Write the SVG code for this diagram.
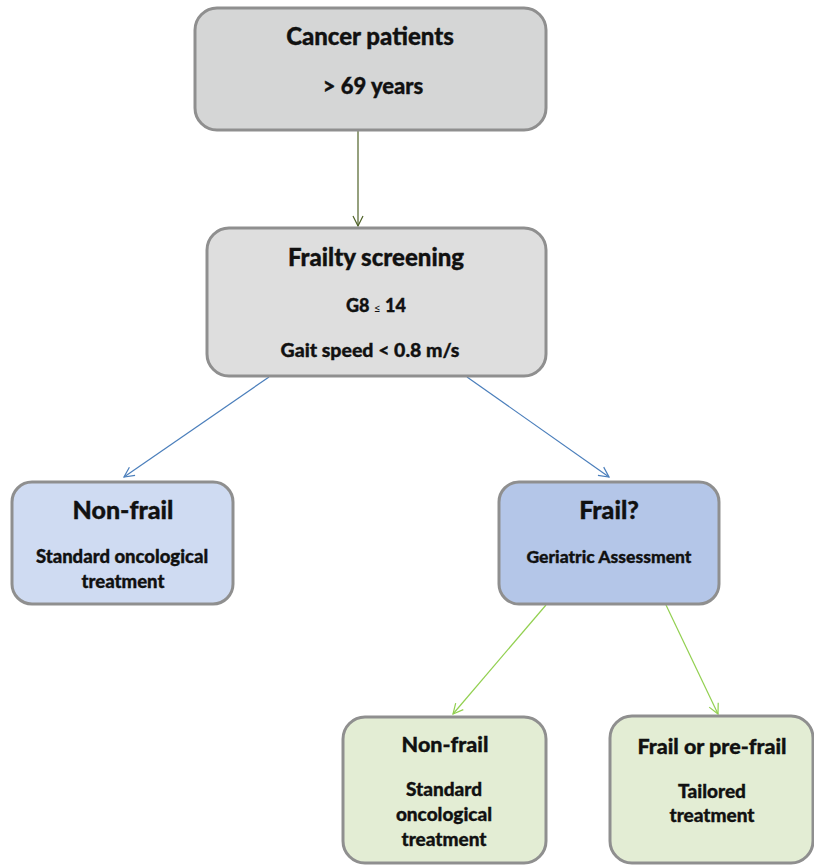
<svg xmlns="http://www.w3.org/2000/svg" width="814" height="865" viewBox="0 0 814 865">
  <style>
    .box { stroke: #8f8f8f; stroke-width: 3; }
    text { font-family: Lato, "Open Sans", "Liberation Sans", sans-serif; font-weight: 900; fill: #111; stroke: #111; stroke-width: 0.35; text-anchor: middle; }
    .conn { fill: none; stroke-width: 1.2; }
  </style>
  <defs>
    <marker id="arrOlive" viewBox="0 0 12 12" refX="11" refY="6" markerWidth="12" markerHeight="12" orient="auto" markerUnits="userSpaceOnUse">
      <path d="M1,1 L11,6 L1,11" fill="none" stroke="#4f6228" stroke-width="1.2"/>
    </marker>
    <marker id="arrBlue" viewBox="0 0 12 12" refX="11" refY="6" markerWidth="12" markerHeight="12" orient="auto" markerUnits="userSpaceOnUse">
      <path d="M1,1 L11,6 L1,11" fill="none" stroke="#4a7ebb" stroke-width="1.2"/>
    </marker>
    <marker id="arrGreen" viewBox="0 0 12 12" refX="11" refY="6" markerWidth="12" markerHeight="12" orient="auto" markerUnits="userSpaceOnUse">
      <path d="M1,1 L11,6 L1,11" fill="none" stroke="#92d050" stroke-width="1.2"/>
    </marker>
  </defs>

  <g id="connectors">
    <line class="conn" x1="358" y1="131" x2="358" y2="226" stroke="#4f6228" marker-end="url(#arrOlive)"/>
    <line class="conn" x1="269" y1="377" x2="124" y2="477" stroke="#4a7ebb" marker-end="url(#arrBlue)"/>
    <line class="conn" x1="467" y1="377" x2="609" y2="477" stroke="#4a7ebb" marker-end="url(#arrBlue)"/>
    <line class="conn" x1="546" y1="605" x2="453" y2="714" stroke="#92d050" marker-end="url(#arrGreen)"/>
    <line class="conn" x1="666" y1="605" x2="718" y2="714" stroke="#92d050" marker-end="url(#arrGreen)"/>
  </g>

  <g id="patients">
    <rect class="box" x="195" y="8" width="351" height="122" rx="22" fill="#d5d6d6"/>
    <text x="370" y="45" font-size="24">Cancer patients</text>
    <text x="373" y="94" font-size="22">&gt; 69 years</text>
  </g>

  <g id="screening">
    <rect class="box" x="207" y="228" width="339" height="148" rx="22" fill="#dedede"/>
    <text x="376" y="266" font-size="24">Frailty screening</text>
    <text x="376" y="312" font-size="18">G8 <tspan font-size="12" font-weight="400" stroke-width="0">≤</tspan> 14</text>
    <text x="370" y="357" font-size="19.5">Gait speed &lt; 0.8 m/s</text>
  </g>

  <g id="nonfrail-screen">
    <rect class="box" x="12" y="482" width="221" height="122" rx="20" fill="#cfdbf2"/>
    <text x="123" y="519" font-size="25">Non-frail</text>
    <text x="122" y="563" font-size="18.5">Standard oncological</text>
    <text x="123" y="588" font-size="18.5">treatment</text>
  </g>

  <g id="frail-screen">
    <rect class="box" x="499" y="482" width="220" height="122" rx="20" fill="#b4c6e8"/>
    <text x="609" y="519" font-size="25">Frail?</text>
    <text x="609" y="563" font-size="17.5">Geriatric Assessment</text>
  </g>

  <g id="nonfrail-ga">
    <rect class="box" x="343" y="717" width="203" height="146" rx="22" fill="#e3edd4"/>
    <text x="445" y="752" font-size="21.5">Non-frail</text>
    <text x="444" y="796" font-size="19">Standard</text>
    <text x="444" y="821" font-size="19">oncological</text>
    <text x="444" y="846" font-size="19">treatment</text>
  </g>

  <g id="frail-ga">
    <rect class="box" x="610" y="716" width="203" height="147" rx="22" fill="#e3edd4"/>
    <text x="712" y="754" font-size="21.5">Frail or pre-frail</text>
    <text x="712" y="798" font-size="19">Tailored</text>
    <text x="712" y="822" font-size="19">treatment</text>
  </g>
</svg>
